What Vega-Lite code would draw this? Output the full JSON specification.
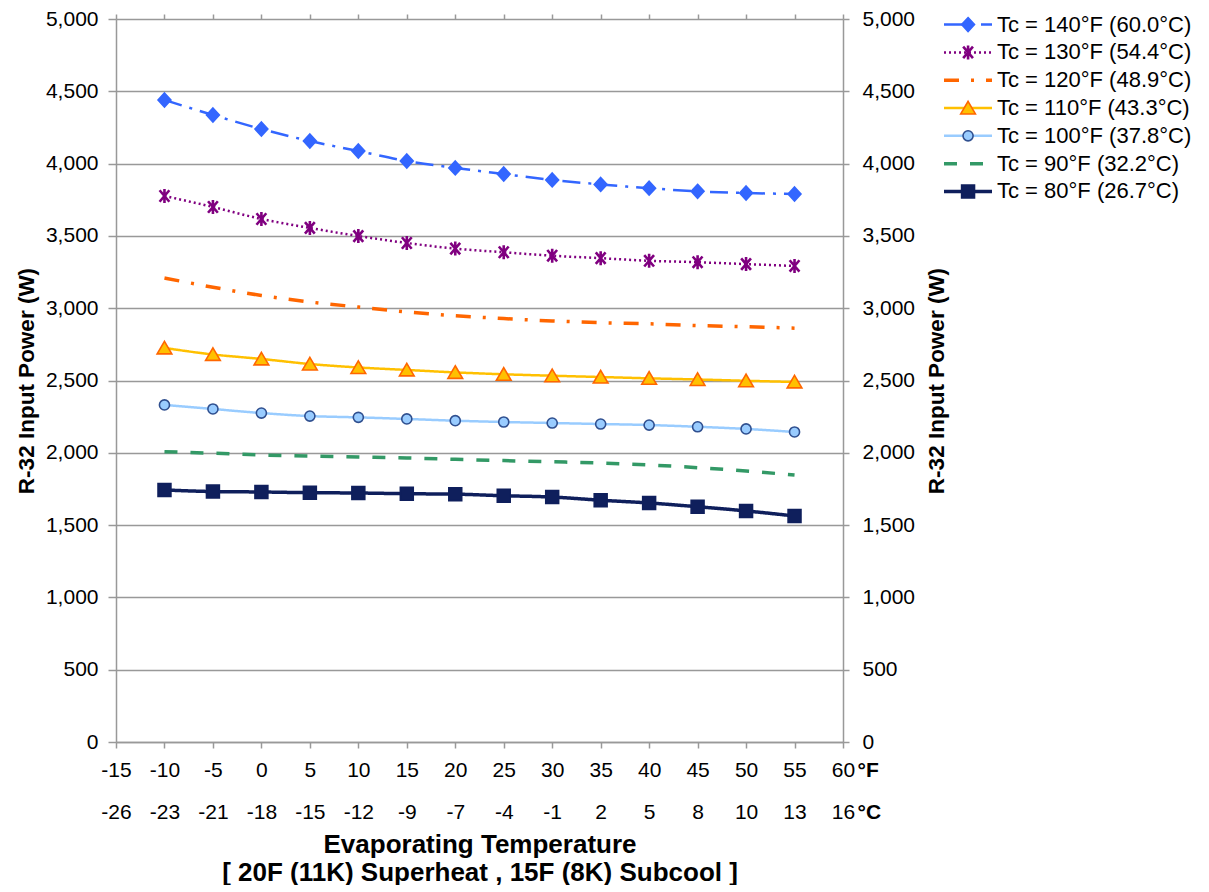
{
  "$schema": "https://vega.github.io/schema/vega-lite/v6.json",
  "padding": {"left": 15, "top": 8, "right": 0, "bottom": 0},
  "bounds": "flush",
  "spacing": 101,
  "config": {
    "view": {"stroke": null},
    "font": "Liberation Sans",
    "axis": {
      "labelFont": "Liberation Sans", "labelFontSize": 21, "labelColor": "#000",
      "titleFont": "Liberation Sans", "titleFontSize": 22.5, "titleColor": "#000", "titleFontWeight": "bold",
      "tickColor": "#999999", "domainColor": "#999999", "gridColor": "#999999",
      "domainWidth": 1.5, "tickWidth": 1.5, "gridWidth": 1.3,
      "labelOverlap": false, "labelFlush": false, "labelBound": false
    },
    "text": {"font": "Liberation Sans"}
  },
  "datasets": {
    "power": [
      {"tc": "Tc = 140°F (60.0°C)", "te": -10, "w": 4440}, {"tc": "Tc = 140°F (60.0°C)", "te": -5, "w": 4336},
      {"tc": "Tc = 140°F (60.0°C)", "te": 0, "w": 4239}, {"tc": "Tc = 140°F (60.0°C)", "te": 5, "w": 4156},
      {"tc": "Tc = 140°F (60.0°C)", "te": 10, "w": 4087}, {"tc": "Tc = 140°F (60.0°C)", "te": 15, "w": 4018},
      {"tc": "Tc = 140°F (60.0°C)", "te": 20, "w": 3970}, {"tc": "Tc = 140°F (60.0°C)", "te": 25, "w": 3928},
      {"tc": "Tc = 140°F (60.0°C)", "te": 30, "w": 3887}, {"tc": "Tc = 140°F (60.0°C)", "te": 35, "w": 3856},
      {"tc": "Tc = 140°F (60.0°C)", "te": 40, "w": 3830}, {"tc": "Tc = 140°F (60.0°C)", "te": 45, "w": 3808},
      {"tc": "Tc = 140°F (60.0°C)", "te": 50, "w": 3797}, {"tc": "Tc = 140°F (60.0°C)", "te": 55, "w": 3790},
      {"tc": "Tc = 130°F (54.4°C)", "te": -10, "w": 3776}, {"tc": "Tc = 130°F (54.4°C)", "te": -5, "w": 3700},
      {"tc": "Tc = 130°F (54.4°C)", "te": 0, "w": 3617}, {"tc": "Tc = 130°F (54.4°C)", "te": 5, "w": 3555},
      {"tc": "Tc = 130°F (54.4°C)", "te": 10, "w": 3499}, {"tc": "Tc = 130°F (54.4°C)", "te": 15, "w": 3451},
      {"tc": "Tc = 130°F (54.4°C)", "te": 20, "w": 3412}, {"tc": "Tc = 130°F (54.4°C)", "te": 25, "w": 3387},
      {"tc": "Tc = 130°F (54.4°C)", "te": 30, "w": 3363}, {"tc": "Tc = 130°F (54.4°C)", "te": 35, "w": 3346},
      {"tc": "Tc = 130°F (54.4°C)", "te": 40, "w": 3328}, {"tc": "Tc = 130°F (54.4°C)", "te": 45, "w": 3318},
      {"tc": "Tc = 130°F (54.4°C)", "te": 50, "w": 3305}, {"tc": "Tc = 130°F (54.4°C)", "te": 55, "w": 3292},
      {"tc": "Tc = 120°F (48.9°C)", "te": -10, "w": 3209}, {"tc": "Tc = 120°F (48.9°C)", "te": -5, "w": 3145},
      {"tc": "Tc = 120°F (48.9°C)", "te": 0, "w": 3088}, {"tc": "Tc = 120°F (48.9°C)", "te": 5, "w": 3043},
      {"tc": "Tc = 120°F (48.9°C)", "te": 10, "w": 3008}, {"tc": "Tc = 120°F (48.9°C)", "te": 15, "w": 2974},
      {"tc": "Tc = 120°F (48.9°C)", "te": 20, "w": 2948}, {"tc": "Tc = 120°F (48.9°C)", "te": 25, "w": 2928},
      {"tc": "Tc = 120°F (48.9°C)", "te": 30, "w": 2912}, {"tc": "Tc = 120°F (48.9°C)", "te": 35, "w": 2900},
      {"tc": "Tc = 120°F (48.9°C)", "te": 40, "w": 2892}, {"tc": "Tc = 120°F (48.9°C)", "te": 45, "w": 2880},
      {"tc": "Tc = 120°F (48.9°C)", "te": 50, "w": 2872}, {"tc": "Tc = 120°F (48.9°C)", "te": 55, "w": 2862},
      {"tc": "Tc = 110°F (43.3°C)", "te": -10, "w": 2725}, {"tc": "Tc = 110°F (43.3°C)", "te": -5, "w": 2680},
      {"tc": "Tc = 110°F (43.3°C)", "te": 0, "w": 2649}, {"tc": "Tc = 110°F (43.3°C)", "te": 5, "w": 2614},
      {"tc": "Tc = 110°F (43.3°C)", "te": 10, "w": 2590}, {"tc": "Tc = 110°F (43.3°C)", "te": 15, "w": 2573},
      {"tc": "Tc = 110°F (43.3°C)", "te": 20, "w": 2556}, {"tc": "Tc = 110°F (43.3°C)", "te": 25, "w": 2543},
      {"tc": "Tc = 110°F (43.3°C)", "te": 30, "w": 2533}, {"tc": "Tc = 110°F (43.3°C)", "te": 35, "w": 2524},
      {"tc": "Tc = 110°F (43.3°C)", "te": 40, "w": 2515}, {"tc": "Tc = 110°F (43.3°C)", "te": 45, "w": 2507},
      {"tc": "Tc = 110°F (43.3°C)", "te": 50, "w": 2498}, {"tc": "Tc = 110°F (43.3°C)", "te": 55, "w": 2490},
      {"tc": "Tc = 100°F (37.8°C)", "te": -10, "w": 2331}, {"tc": "Tc = 100°F (37.8°C)", "te": -5, "w": 2303},
      {"tc": "Tc = 100°F (37.8°C)", "te": 0, "w": 2275}, {"tc": "Tc = 100°F (37.8°C)", "te": 5, "w": 2254},
      {"tc": "Tc = 100°F (37.8°C)", "te": 10, "w": 2245}, {"tc": "Tc = 100°F (37.8°C)", "te": 15, "w": 2234},
      {"tc": "Tc = 100°F (37.8°C)", "te": 20, "w": 2222}, {"tc": "Tc = 100°F (37.8°C)", "te": 25, "w": 2213},
      {"tc": "Tc = 100°F (37.8°C)", "te": 30, "w": 2206}, {"tc": "Tc = 100°F (37.8°C)", "te": 35, "w": 2199},
      {"tc": "Tc = 100°F (37.8°C)", "te": 40, "w": 2192}, {"tc": "Tc = 100°F (37.8°C)", "te": 45, "w": 2180},
      {"tc": "Tc = 100°F (37.8°C)", "te": 50, "w": 2165}, {"tc": "Tc = 100°F (37.8°C)", "te": 55, "w": 2144},
      {"tc": "Tc = 90°F (32.2°C)", "te": -10, "w": 2008}, {"tc": "Tc = 90°F (32.2°C)", "te": -5, "w": 1997},
      {"tc": "Tc = 90°F (32.2°C)", "te": 0, "w": 1985}, {"tc": "Tc = 90°F (32.2°C)", "te": 5, "w": 1978},
      {"tc": "Tc = 90°F (32.2°C)", "te": 10, "w": 1971}, {"tc": "Tc = 90°F (32.2°C)", "te": 15, "w": 1964},
      {"tc": "Tc = 90°F (32.2°C)", "te": 20, "w": 1955}, {"tc": "Tc = 90°F (32.2°C)", "te": 25, "w": 1946},
      {"tc": "Tc = 90°F (32.2°C)", "te": 30, "w": 1938}, {"tc": "Tc = 90°F (32.2°C)", "te": 35, "w": 1929},
      {"tc": "Tc = 90°F (32.2°C)", "te": 40, "w": 1916}, {"tc": "Tc = 90°F (32.2°C)", "te": 45, "w": 1897},
      {"tc": "Tc = 90°F (32.2°C)", "te": 50, "w": 1874}, {"tc": "Tc = 90°F (32.2°C)", "te": 55, "w": 1846},
      {"tc": "Tc = 80°F (26.7°C)", "te": -10, "w": 1743}, {"tc": "Tc = 80°F (26.7°C)", "te": -5, "w": 1732},
      {"tc": "Tc = 80°F (26.7°C)", "te": 0, "w": 1729}, {"tc": "Tc = 80°F (26.7°C)", "te": 5, "w": 1724},
      {"tc": "Tc = 80°F (26.7°C)", "te": 10, "w": 1722}, {"tc": "Tc = 80°F (26.7°C)", "te": 15, "w": 1717},
      {"tc": "Tc = 80°F (26.7°C)", "te": 20, "w": 1714}, {"tc": "Tc = 80°F (26.7°C)", "te": 25, "w": 1703},
      {"tc": "Tc = 80°F (26.7°C)", "te": 30, "w": 1694}, {"tc": "Tc = 80°F (26.7°C)", "te": 35, "w": 1672},
      {"tc": "Tc = 80°F (26.7°C)", "te": 40, "w": 1653}, {"tc": "Tc = 80°F (26.7°C)", "te": 45, "w": 1627},
      {"tc": "Tc = 80°F (26.7°C)", "te": 50, "w": 1598}, {"tc": "Tc = 80°F (26.7°C)", "te": 55, "w": 1563}
    ],
    "series": [
      {"tc": "Tc = 140°F (60.0°C)"}, {"tc": "Tc = 130°F (54.4°C)"}, {"tc": "Tc = 120°F (48.9°C)"},
      {"tc": "Tc = 110°F (43.3°C)"}, {"tc": "Tc = 100°F (37.8°C)"}, {"tc": "Tc = 90°F (32.2°C)"},
      {"tc": "Tc = 80°F (26.7°C)"}
    ]
  },
  "hconcat": [
    {
      "width": 727,
      "height": 723,
      "data": {"name": "power"},
      "layer": [
        {
          "transform": [{"filter": {"field": "tc", "oneOf": ["Tc = 140°F (60.0°C)", "Tc = 130°F (54.4°C)", "Tc = 110°F (43.3°C)", "Tc = 100°F (37.8°C)"]}}],
          "mark": {"type": "line", "interpolate": "monotone", "strokeWidth": 2.5},
          "encoding": {
            "x": {
              "field": "te", "type": "quantitative",
              "scale": {"domain": [-15, 60], "nice": false, "zero": false},
              "axis": {
                "orient": "bottom",
                "values": [-15, -10, -5, 0, 5, 10, 15, 20, 25, 30, 35, 40, 45, 50, 55, 60],
                "labelExpr": "['' + datum.value, ['-26','-23','-21','-18','-15','-12','-9','-7','-4','-1','2','5','8','10','13','16'][(datum.value + 15) / 5]]",
                "labelLineHeight": 42,
                "labelPadding": 11,
                "tickSize": 6,
                "grid": false,
                "title": ["Evaporating Temperature", "[ 20F (11K) Superheat , 15F (8K) Subcool ]"],
                "titleFontSize": 26,
                "titleLineHeight": 28,
                "titlePadding": 9
              }
            },
            "y": {
              "field": "w", "type": "quantitative",
              "scale": {"domain": [0, 5000], "nice": false, "zero": true},
              "axis": {
                "orient": "left",
                "values": [0, 500, 1000, 1500, 2000, 2500, 3000, 3500, 4000, 4500, 5000],
                "format": ",d",
                "grid": true,
                "tickSize": 8,
                "labelPadding": 10,
                "title": "R-32 Input Power (W)",
                "titlePadding": 7
              }
            },
            "color": {
              "field": "tc", "type": "nominal", "legend": null,
              "scale": {
                "domain": ["Tc = 140°F (60.0°C)", "Tc = 130°F (54.4°C)", "Tc = 120°F (48.9°C)", "Tc = 110°F (43.3°C)", "Tc = 100°F (37.8°C)", "Tc = 90°F (32.2°C)", "Tc = 80°F (26.7°C)"],
                "range": ["#3366FF", "#800080", "#FF6600", "#FFC000", "#99CCFF", "#339966", "#0F1F5C"]
              }
            },
            "strokeDash": {
              "field": "tc", "type": "nominal", "legend": null,
              "scale": {
                "domain": ["Tc = 140°F (60.0°C)", "Tc = 130°F (54.4°C)", "Tc = 120°F (48.9°C)", "Tc = 110°F (43.3°C)", "Tc = 100°F (37.8°C)", "Tc = 90°F (32.2°C)", "Tc = 80°F (26.7°C)"],
                "range": [[18, 8, 3, 8], [2, 3], [15, 12, 3, 12], [1, 0], [1, 0], [13, 13], [1, 0]]
              }
            }
          }
        },
        {
          "transform": [{"filter": {"field": "tc", "oneOf": ["Tc = 120°F (48.9°C)", "Tc = 90°F (32.2°C)", "Tc = 80°F (26.7°C)"]}}],
          "mark": {"type": "line", "interpolate": "monotone", "strokeWidth": 3.5},
          "encoding": {
            "x": {"field": "te", "type": "quantitative", "axis": null},
            "y": {"field": "w", "type": "quantitative", "axis": null},
            "color": {
              "field": "tc", "type": "nominal", "legend": null,
              "scale": {
                "domain": ["Tc = 140°F (60.0°C)", "Tc = 130°F (54.4°C)", "Tc = 120°F (48.9°C)", "Tc = 110°F (43.3°C)", "Tc = 100°F (37.8°C)", "Tc = 90°F (32.2°C)", "Tc = 80°F (26.7°C)"],
                "range": ["#3366FF", "#800080", "#FF6600", "#FFC000", "#99CCFF", "#339966", "#0F1F5C"]
              }
            },
            "strokeDash": {
              "field": "tc", "type": "nominal", "legend": null,
              "scale": {
                "domain": ["Tc = 140°F (60.0°C)", "Tc = 130°F (54.4°C)", "Tc = 120°F (48.9°C)", "Tc = 110°F (43.3°C)", "Tc = 100°F (37.8°C)", "Tc = 90°F (32.2°C)", "Tc = 80°F (26.7°C)"],
                "range": [[18, 8, 3, 8], [2, 3], [15, 12, 3, 12], [1, 0], [1, 0], [13, 13], [1, 0]]
              }
            }
          }
        },
        {
          "transform": [{"filter": {"field": "tc", "oneOf": ["Tc = 140°F (60.0°C)", "Tc = 110°F (43.3°C)", "Tc = 100°F (37.8°C)", "Tc = 80°F (26.7°C)"]}}],
          "mark": {"type": "point", "filled": true, "strokeWidth": 1.6, "size": 196, "opacity": 1},
          "encoding": {
            "x": {
              "field": "te", "type": "quantitative",
              "axis": {
                "orient": "top",
                "values": [-15, -10, -5, 0, 5, 10, 15, 20, 25, 30, 35, 40, 45, 50, 55, 60],
                "labels": false, "domain": false, "grid": false, "tickSize": 5, "title": null
              }
            },
            "y": {
              "field": "w", "type": "quantitative",
              "axis": {
                "orient": "right",
                "values": [0, 500, 1000, 1500, 2000, 2500, 3000, 3500, 4000, 4500, 5000],
                "format": ",d",
                "grid": false,
                "tickSize": 6,
                "labelPadding": 13,
                "title": "R-32 Input Power (W)",
                "titleAngle": 270,
                "titleBaseline": "top",
                "titlePadding": 11
              }
            },
            "shape": {
              "field": "tc", "type": "nominal", "legend": null,
              "scale": {
                "domain": ["Tc = 140°F (60.0°C)", "Tc = 130°F (54.4°C)", "Tc = 110°F (43.3°C)", "Tc = 100°F (37.8°C)", "Tc = 80°F (26.7°C)"],
                "range": ["M0,-1L0.92,0L0,1L-0.92,0Z", "M-0.7,-0.82L0.7,0.82M-0.7,0.82L0.7,-0.82M0,-1L0,1", "M0,-0.95L1.05,0.85L-1.05,0.85Z", "M-0.72,0A0.72,0.72,0,1,0,0.72,0A0.72,0.72,0,1,0,-0.72,0Z", "M-0.92,-0.92L0.92,-0.92L0.92,0.92L-0.92,0.92Z"]
              }
            },
            "fill": {
              "field": "tc", "type": "nominal", "legend": null,
              "scale": {
                "domain": ["Tc = 140°F (60.0°C)", "Tc = 130°F (54.4°C)", "Tc = 110°F (43.3°C)", "Tc = 100°F (37.8°C)", "Tc = 80°F (26.7°C)"],
                "range": ["#3366FF", "#800080", "#FFC000", "#99CCFF", "#0F1F5C"]
              }
            },
            "stroke": {
              "field": "tc", "type": "nominal", "legend": null,
              "scale": {
                "domain": ["Tc = 140°F (60.0°C)", "Tc = 130°F (54.4°C)", "Tc = 110°F (43.3°C)", "Tc = 100°F (37.8°C)", "Tc = 80°F (26.7°C)"],
                "range": ["#3366FF", "#800080", "#FF6600", "#2F4F8F", "#0F1F5C"]
              }
            }
          }
        },
        {
          "transform": [{"filter": {"field": "tc", "equal": "Tc = 130°F (54.4°C)"}}],
          "mark": {"type": "point", "filled": false, "strokeWidth": 2.6, "size": 196, "opacity": 1},
          "encoding": {
            "x": {"field": "te", "type": "quantitative", "axis": null},
            "y": {"field": "w", "type": "quantitative", "axis": null},
            "shape": {"field": "tc", "type": "nominal", "legend": null},
            "stroke": {"field": "tc", "type": "nominal", "legend": null}
          }
        },
        {
          "transform": [{"filter": {"field": "te", "equal": 55}}],
          "mark": {"type": "point", "opacity": 0},
          "encoding": {
            "x": {
              "field": "te", "type": "quantitative",
              "axis": {
                "orient": "bottom",
                "values": [60],
                "labelExpr": "['°F', '°C']",
                "labelFontWeight": "bold",
                "labelAlign": "left",
                "labelOffset": 14,
                "labelLineHeight": 42,
                "labelPadding": 11,
                "tickSize": 6,
                "tickOpacity": 0,
                "domain": false,
                "grid": false,
                "title": null
              }
            },
            "y": {"field": "w", "type": "quantitative", "axis": null}
          }
        }
      ],
      "resolve": {"axis": {"x": "independent", "y": "independent"}}
    },
    {
      "width": 256,
      "height": 178,
      "data": {"name": "series"},
      "layer": [
        {
          "transform": [{"filter": {"field": "tc", "oneOf": ["Tc = 140°F (60.0°C)", "Tc = 130°F (54.4°C)", "Tc = 110°F (43.3°C)", "Tc = 100°F (37.8°C)"]}}],
          "mark": {"type": "rule", "strokeWidth": 2.5},
          "encoding": {
            "y": {
              "field": "tc", "type": "nominal", "axis": null,
              "scale": {"type": "point", "padding": 0.2, "domain": ["Tc = 140°F (60.0°C)", "Tc = 130°F (54.4°C)", "Tc = 120°F (48.9°C)", "Tc = 110°F (43.3°C)", "Tc = 100°F (37.8°C)", "Tc = 90°F (32.2°C)", "Tc = 80°F (26.7°C)"]}
            },
            "x": {"datum": 0, "type": "quantitative", "scale": {"domain": [0, 100], "nice": false}, "axis": null},
            "x2": {"datum": 18.75},
            "color": {
              "field": "tc", "type": "nominal", "legend": null,
              "scale": {
                "domain": ["Tc = 140°F (60.0°C)", "Tc = 130°F (54.4°C)", "Tc = 120°F (48.9°C)", "Tc = 110°F (43.3°C)", "Tc = 100°F (37.8°C)", "Tc = 90°F (32.2°C)", "Tc = 80°F (26.7°C)"],
                "range": ["#3366FF", "#800080", "#FF6600", "#FFC000", "#99CCFF", "#339966", "#0F1F5C"]
              }
            },
            "strokeDash": {
              "field": "tc", "type": "nominal", "legend": null,
              "scale": {
                "domain": ["Tc = 140°F (60.0°C)", "Tc = 130°F (54.4°C)", "Tc = 120°F (48.9°C)", "Tc = 110°F (43.3°C)", "Tc = 100°F (37.8°C)", "Tc = 90°F (32.2°C)", "Tc = 80°F (26.7°C)"],
                "range": [[18, 8, 3, 8], [2, 3], [15, 12, 3, 12], [1, 0], [1, 0], [13, 13], [1, 0]]
              }
            }
          }
        },
        {
          "transform": [{"filter": {"field": "tc", "oneOf": ["Tc = 120°F (48.9°C)", "Tc = 90°F (32.2°C)", "Tc = 80°F (26.7°C)"]}}],
          "mark": {"type": "rule", "strokeWidth": 3.5},
          "encoding": {
            "y": {"field": "tc", "type": "nominal", "axis": null},
            "x": {"datum": 0, "type": "quantitative", "axis": null},
            "x2": {"datum": 18.75},
            "color": {
              "field": "tc", "type": "nominal", "legend": null,
              "scale": {
                "domain": ["Tc = 140°F (60.0°C)", "Tc = 130°F (54.4°C)", "Tc = 120°F (48.9°C)", "Tc = 110°F (43.3°C)", "Tc = 100°F (37.8°C)", "Tc = 90°F (32.2°C)", "Tc = 80°F (26.7°C)"],
                "range": ["#3366FF", "#800080", "#FF6600", "#FFC000", "#99CCFF", "#339966", "#0F1F5C"]
              }
            },
            "strokeDash": {
              "field": "tc", "type": "nominal", "legend": null,
              "scale": {
                "domain": ["Tc = 140°F (60.0°C)", "Tc = 130°F (54.4°C)", "Tc = 120°F (48.9°C)", "Tc = 110°F (43.3°C)", "Tc = 100°F (37.8°C)", "Tc = 90°F (32.2°C)", "Tc = 80°F (26.7°C)"],
                "range": [[18, 8, 3, 8], [2, 3], [15, 12, 3, 12], [1, 0], [1, 0], [13, 13], [1, 0]]
              }
            }
          }
        },
        {
          "transform": [{"filter": {"field": "tc", "oneOf": ["Tc = 140°F (60.0°C)", "Tc = 110°F (43.3°C)", "Tc = 100°F (37.8°C)", "Tc = 80°F (26.7°C)"]}}],
          "mark": {"type": "point", "filled": true, "strokeWidth": 1.6, "size": 196, "opacity": 1},
          "encoding": {
            "y": {"field": "tc", "type": "nominal", "axis": null},
            "x": {"datum": 9.4, "type": "quantitative", "axis": null},
            "shape": {
              "field": "tc", "type": "nominal", "legend": null,
              "scale": {
                "domain": ["Tc = 140°F (60.0°C)", "Tc = 130°F (54.4°C)", "Tc = 110°F (43.3°C)", "Tc = 100°F (37.8°C)", "Tc = 80°F (26.7°C)"],
                "range": ["M0,-1L0.92,0L0,1L-0.92,0Z", "M-0.7,-0.82L0.7,0.82M-0.7,0.82L0.7,-0.82M0,-1L0,1", "M0,-0.95L1.05,0.85L-1.05,0.85Z", "M-0.72,0A0.72,0.72,0,1,0,0.72,0A0.72,0.72,0,1,0,-0.72,0Z", "M-0.92,-0.92L0.92,-0.92L0.92,0.92L-0.92,0.92Z"]
              }
            },
            "fill": {
              "field": "tc", "type": "nominal", "legend": null,
              "scale": {
                "domain": ["Tc = 140°F (60.0°C)", "Tc = 130°F (54.4°C)", "Tc = 110°F (43.3°C)", "Tc = 100°F (37.8°C)", "Tc = 80°F (26.7°C)"],
                "range": ["#3366FF", "#800080", "#FFC000", "#99CCFF", "#0F1F5C"]
              }
            },
            "stroke": {
              "field": "tc", "type": "nominal", "legend": null,
              "scale": {
                "domain": ["Tc = 140°F (60.0°C)", "Tc = 130°F (54.4°C)", "Tc = 110°F (43.3°C)", "Tc = 100°F (37.8°C)", "Tc = 80°F (26.7°C)"],
                "range": ["#3366FF", "#800080", "#FF6600", "#2F4F8F", "#0F1F5C"]
              }
            }
          }
        },
        {
          "transform": [{"filter": {"field": "tc", "equal": "Tc = 130°F (54.4°C)"}}],
          "mark": {"type": "point", "filled": false, "strokeWidth": 2.6, "size": 196, "opacity": 1},
          "encoding": {
            "y": {"field": "tc", "type": "nominal", "axis": null},
            "x": {"datum": 9.4, "type": "quantitative", "axis": null},
            "shape": {"field": "tc", "type": "nominal", "legend": null},
            "stroke": {"field": "tc", "type": "nominal", "legend": null}
          }
        },
        {
          "mark": {"type": "text", "align": "left", "baseline": "middle", "fontSize": 22, "color": "#000", "font": "Liberation Sans"},
          "encoding": {
            "y": {"field": "tc", "type": "nominal", "axis": null},
            "x": {"datum": 20.7, "type": "quantitative", "axis": null},
            "text": {"field": "tc", "type": "nominal"}
          }
        }
      ]
    }
  ]
}
